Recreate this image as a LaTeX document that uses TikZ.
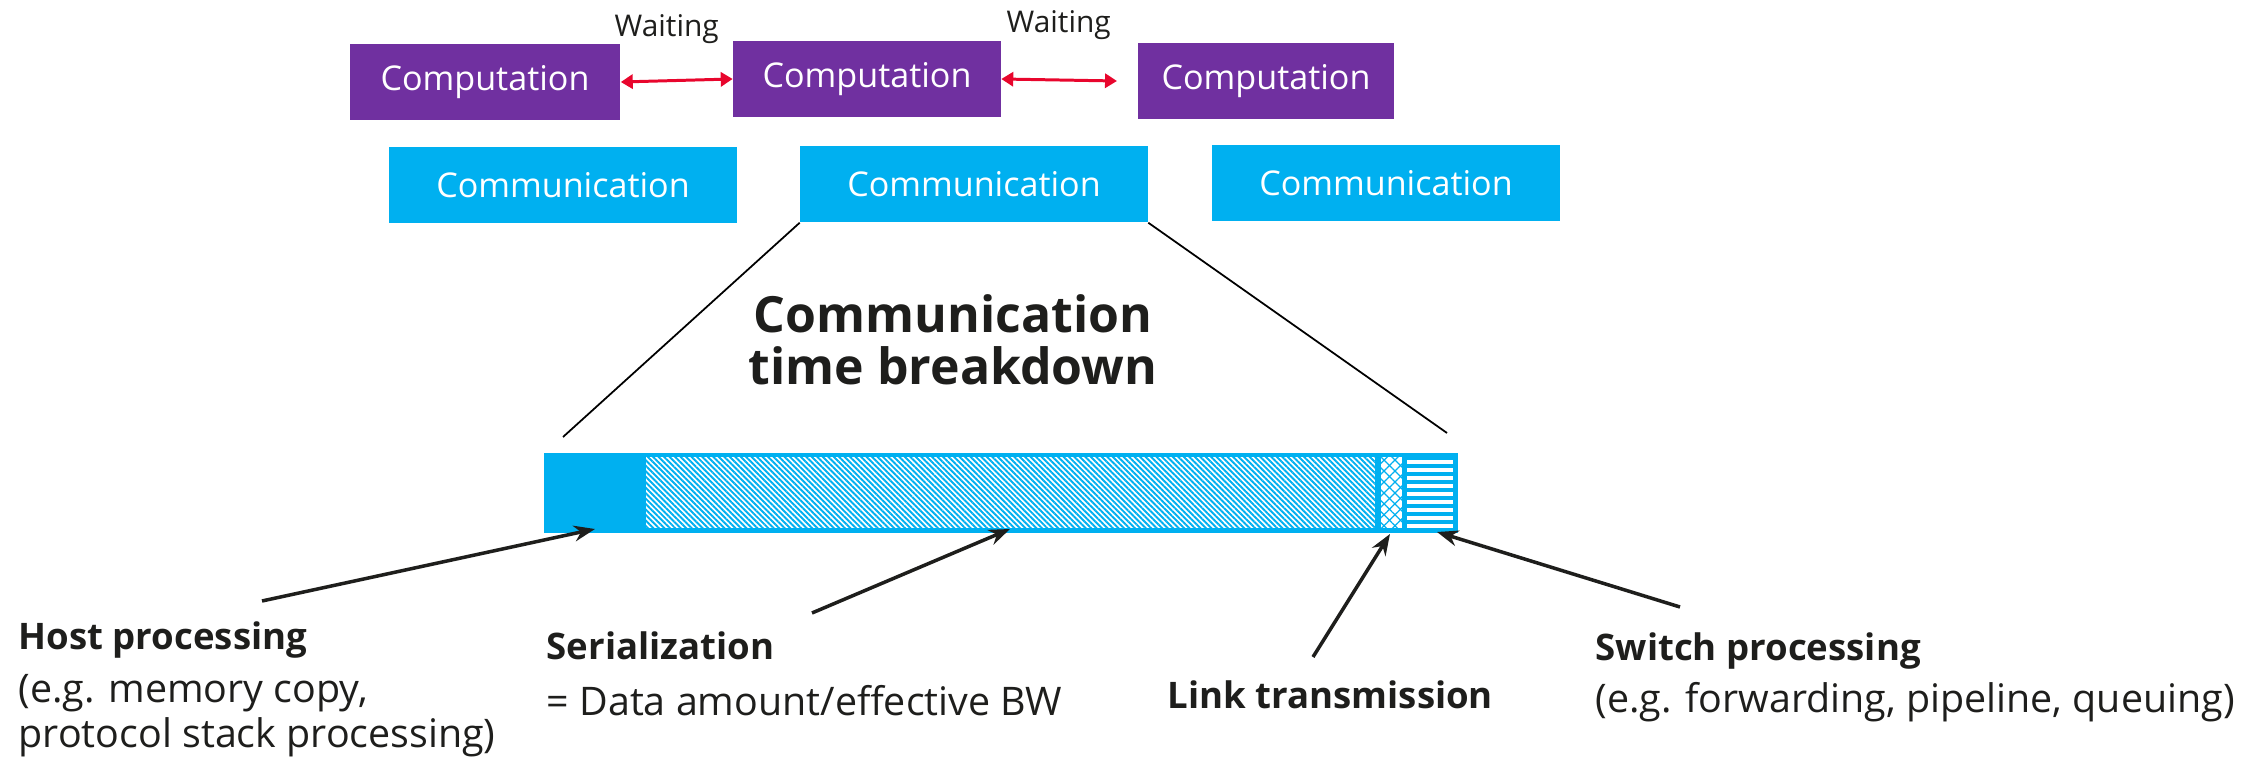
\documentclass[tikz,border=0pt]{standalone}
\usepackage{fontspec}
\setmainfont{Open Sans}
\usetikzlibrary{arrows.meta,patterns.meta}
\definecolor{comppurple}{HTML}{7030A0}
\definecolor{commblue}{HTML}{00B0F0}
\definecolor{waitred}{HTML}{E8062D}
\definecolor{txtgray}{HTML}{1E1E1C}

\begin{document}
\begin{tikzpicture}[x=0.01cm, y=-0.01cm,
		comp/.style={fill=comppurple, text=white, minimum width=2.67cm, minimum height=0.76cm, inner sep=0pt, font=\fontsize{9.7}{11}\selectfont},
		comm/.style={fill=commblue, text=white, minimum width=3.47cm, minimum height=0.76cm, inner sep=0pt, font=\fontsize{9.7}{11}\selectfont},
		wait/.style={anchor=base west, inner sep=0pt, text=txtgray, font=\fontsize{8.5}{10}\selectfont},
		waitarrow/.style={waitred, line width=0.85pt, {Triangle[length=3.4pt,width=4pt]}-{Triangle[length=3.4pt,width=4pt]}},
		callout/.style={txtgray, line width=1pt, -{Stealth[length=6pt,width=4.5pt]}},
		lblhead/.style={anchor=base west, inner sep=0pt, text=txtgray, font=\bfseries\fontsize{10.4}{12}\selectfont},
		lblsub/.style={anchor=base west, inner sep=0pt, text=txtgray, align=left, font=\fontsize{11.2}{13}\selectfont}]
		\useasboundingbox (0,0) rectangle (2262,761);
		
		%computation row
		\node[comp, minimum width=2.70cm] (comp1) at (485,82) {Computation};
		\node[comp] (comp2) at (867,79) {Computation};
		\node[comp, minimum width=2.56cm] (comp3) at (1266,81) {Computation};
		\node[wait] (wait1) at (614,37) {Waiting};
		\node[wait] (wait2) at (1006,33) {Waiting};
		\coordinate (wait2end) at (1117,81);
		\draw[waitarrow] (comp1.east) -- (comp2.west);
		\draw[waitarrow] (comp2.east) -- (wait2end);
		
		%communication row
		\node[comm] (comm1) at (563,185) {Communication};
		\node[comm] (comm2) at (974,184) {Communication};
		\node[comm] (comm3) at (1386,183) {Communication};
		
		\node[align=center, text=txtgray, inner sep=0pt, anchor=base, font=\bfseries\fontsize{14.2}{14.8}\selectfont] (title) at (953,385) {Communication\\time breakdown};
		
		%zoom lines
		\coordinate (zoomL) at (563,437);
		\coordinate (zoomR) at (1447,433);
		\draw[line width=0.5pt] (comm2.south west) -- (zoomL);
		\draw[line width=0.5pt] (comm2.south east) -- (zoomR);
		
		%breakdown bar
		\fill[commblue] (544,453) rectangle (1458,533);
		\fill[white] (646,457) rectangle (1375,528);
		\fill[pattern={Lines[angle=-45,distance=1.1pt,line width=0.55pt]}, pattern color=commblue] (646,457) rectangle (1375,528);
		\fill[white] (1381,457) rectangle (1402,528);
		\fill[pattern={Lines[angle=45,distance=2.2pt,line width=0.35pt]}, pattern color=commblue] (1381,457) rectangle (1402,528);
		\fill[pattern={Lines[angle=-45,distance=2.2pt,line width=0.35pt]}, pattern color=commblue] (1381,457) rectangle (1402,528);
		\foreach \y in {462,470,...,526}{
			\fill[white] (1407,\y-1.7) rectangle (1453,\y+1.7);
		}
		
		%labels
		\node[lblhead] (hosthead) at (18,650) {Host processing};
		\node[lblsub] (hostsub) at (18,748) {(e.g. memory copy,\\protocol stack processing)};
		\node[lblhead] (serhead) at (546,660) {Serialization};
		\node[lblsub] (sersub) at (546,716) {= Data amount/effective BW};
		\node[lblhead] (linkhead) at (1167,709) {Link transmission};
		\node[lblhead] (swhead) at (1595,661) {Switch processing};
		\node[lblsub] (swsub) at (1595,713) {(e.g. forwarding, pipeline, queuing)};
		
		%callouts
		\coordinate (hostfrom) at (262,601);
		\coordinate (hostto) at (595,529);
		\coordinate (serfrom) at (812,613);
		\coordinate (serto) at (1010,529);
		\coordinate (linkfrom) at (1313,657);
		\coordinate (linkto) at (1390,534);
		\coordinate (swfrom) at (1680,607);
		\coordinate (swto) at (1437,532);
		\draw[callout] (hostfrom) -- (hostto);
		\draw[callout] (serfrom) -- (serto);
		\draw[callout] (linkfrom) -- (linkto);
		\draw[callout] (swfrom) -- (swto);
	\end{tikzpicture}
\end{document}
